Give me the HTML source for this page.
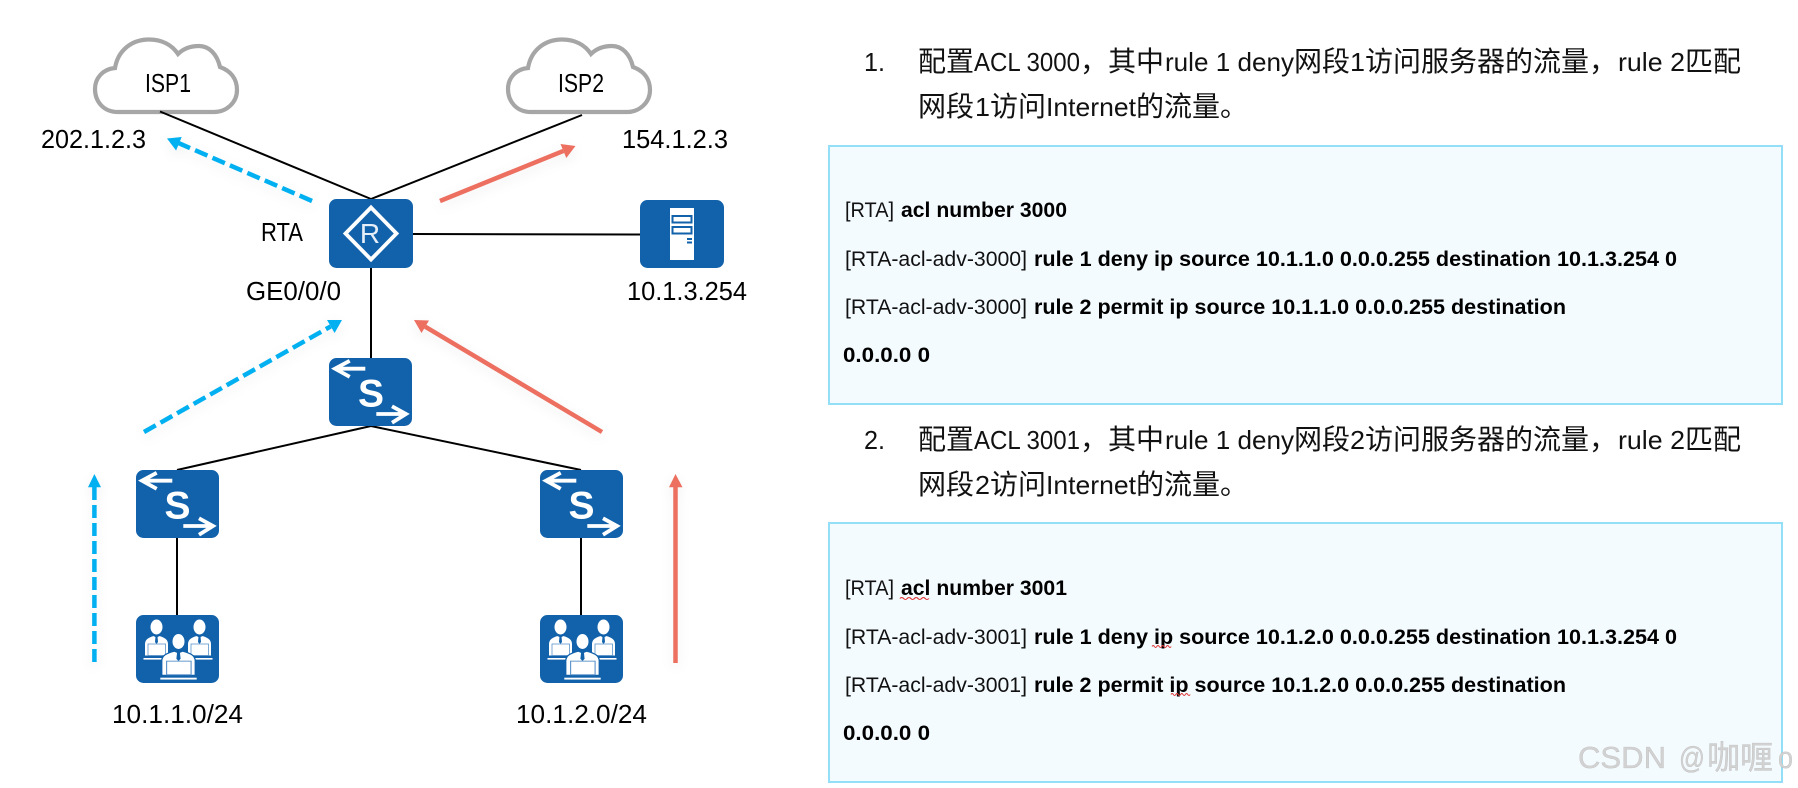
<!DOCTYPE html>
<html lang="zh">
<head>
<meta charset="utf-8">
<title>ACL 配置</title>
<style>
html,body{margin:0;padding:0;background:#fff;width:1798px;height:788px;overflow:hidden}
svg{display:block}
text{font-family:"Liberation Sans","Noto Sans CJK SC",sans-serif;fill:#000}
.cjk{font-family:"Noto Sans CJK SC","Liberation Sans",sans-serif;font-size:28px;fill:#111}
.h{font-size:26px;fill:#111}
.t{font-size:26px}
.c{font-size:21px;fill:#111}
.b{font-size:21px;font-weight:bold}
.wm{fill:#d2d2d2;stroke:#b8b8b8;stroke-width:.3}
.ln{stroke:#000;stroke-width:2;fill:none}
.arrows{filter:drop-shadow(0 4px 6px rgba(0,0,0,.07))}
</style>
</head>
<body>
<svg width="1798" height="788" viewBox="0 0 1798 788" xmlns="http://www.w3.org/2000/svg">
<defs>
<g id="sw">
<rect width="83" height="68" rx="7.500" fill="#1262ab"/>
<path d="M36.300 10.700L6 10.700M20.700 2.800L6 10.700L20.700 18.800" fill="none" stroke="#fff" stroke-width="3.800"/>
<path d="M47.300 56L77 56M63 48.300L77 56L63 64.700" fill="none" stroke="#fff" stroke-width="3.800"/>
</g>
<g id="body">
<path d="M-12 24L-12 12C-12 7-8 5-3 3.500L0 5L3 3.500C8 5 12 7 12 12L12 24Z" fill="#fff" stroke="#1262ab" stroke-width="1"/>
<path d="M-1 4.500L1 4.500L1.500 10L0 12L-1.500 10Z" fill="#1262ab"/>
<rect x="-8.500" y="12" width="17.500" height="11.500" fill="#fff" stroke="#5c93ca" stroke-width=".8"/>
<rect x="-13" y="26" width="26" height="1.600" fill="#fff"/>
</g>
<g id="pc">
<rect width="83" height="68" rx="7.500" fill="#1262ab"/>
<use href="#body" transform="translate(20.500,17)"/>
<ellipse cx="20.500" cy="12" rx="6" ry="7.500" fill="#fff"/>
<use href="#body" transform="translate(63.500,17)"/>
<ellipse cx="63.500" cy="12" rx="6" ry="7.500" fill="#fff"/>
<use href="#body" transform="translate(42.500,32) scale(1.400,1.180)"/>
<ellipse cx="42.500" cy="26.500" rx="7" ry="8" fill="#1262ab"/>
<ellipse cx="42.500" cy="26.500" rx="6" ry="7.500" fill="#fff"/>
</g>
<g id="cloud">
<path d="M118 112C103 112 95 101 95 89C95 78 103 69 115 68C118 50 132 39.500 149 39.500C162 39.500 172 45 178 54C184 48 191 46 199 46C209 46 217 54 220 67C231 71 237 79 237 90C237 103 226 112 214 112Z" fill="#fff" stroke="#a6a6a6" stroke-width="4.200"/>
</g>
<path id="wave" d="M0 0q1.200 -2 2.400 0t2.400 0q1.200 -2 2.400 0t2.400 0q1.200 -2 2.400 0t2.400 0q1.200 -2 2.400 0t2.400 0" fill="none" stroke="#e03a3a" stroke-width="1"/>
</defs>

<!-- clouds -->
<use href="#cloud"/>
<use href="#cloud" transform="translate(413,0)"/>
<text class="t" x="145" y="92" textLength="46" lengthAdjust="spacingAndGlyphs">ISP1</text>
<text class="t" x="558" y="92" textLength="46" lengthAdjust="spacingAndGlyphs">ISP2</text>

<!-- connectors -->
<line class="ln" x1="160" y1="111.500" x2="371" y2="199"/>
<line class="ln" x1="582" y1="115" x2="371" y2="199"/>
<line class="ln" x1="413" y1="234" x2="640" y2="234.500"/>
<line class="ln" x1="371" y1="268" x2="371" y2="358"/>
<line class="ln" x1="371" y1="426" x2="177" y2="470"/>
<line class="ln" x1="371" y1="426" x2="581" y2="470"/>
<line class="ln" x1="177" y1="538" x2="177" y2="615"/>
<line class="ln" x1="581" y1="538" x2="581" y2="615"/>

<!-- devices -->
<rect x="329" y="199" width="84" height="69" rx="7.500" fill="#1262ab"/>
<path d="M371 207.500L396.500 233.500L371 259.500L345.500 233.500Z" fill="none" stroke="#fff" stroke-width="3.800"/>
<text x="370" y="243" text-anchor="middle" font-size="28" style="fill:#e6eef7">R</text>

<rect x="640" y="200" width="84" height="68" rx="7.500" fill="#1262ab"/>
<rect x="670" y="208" width="24" height="52" fill="#fff"/>
<rect x="672.500" y="216" width="19" height="6.500" fill="#fff" stroke="#1262ab" stroke-width="2"/>
<rect x="672.500" y="227" width="19" height="6.500" fill="#fff" stroke="#1262ab" stroke-width="2"/>
<rect x="687" y="238" width="5" height="2" fill="#1262ab"/>
<rect x="687" y="241.500" width="5" height="2" fill="#1262ab"/>

<use href="#sw" transform="translate(329,358)"/>
<text x="371" y="406.500" text-anchor="middle" font-size="39" font-weight="bold" style="fill:#fff">S</text>
<use href="#sw" transform="translate(136,470)"/>
<text x="177.500" y="518.500" text-anchor="middle" font-size="39" font-weight="bold" style="fill:#fff">S</text>
<use href="#sw" transform="translate(540,470)"/>
<text x="581.500" y="518.500" text-anchor="middle" font-size="39" font-weight="bold" style="fill:#fff">S</text>

<use href="#pc" transform="translate(136,615)"/>
<use href="#pc" transform="translate(540,615)"/>

<!-- traffic arrows -->
<g class="arrows">
<g fill="none" stroke-width="4.500">
<line x1="312" y1="201" x2="178.900" y2="143.200" stroke="#00b0f0" stroke-dasharray="13.500 5.500"/>
<line x1="144" y1="432" x2="330.700" y2="326.400" stroke="#00b0f0" stroke-dasharray="13.500 5.500"/>
<line x1="94.400" y1="663" x2="94.400" y2="487" stroke="#00b0f0" stroke-dasharray="13 5" stroke-dashoffset="-1"/>
<line x1="440" y1="201" x2="563.400" y2="150.900" stroke="#ec6f60"/>
<line x1="602" y1="432" x2="425.200" y2="326.700" stroke="#ec6f60"/>
<line x1="675.500" y1="663" x2="675.500" y2="487" stroke="#ec6f60"/>
</g>
<polygon points="167,138.500 181.700,137 176.100,150.500" fill="#00b0f0"/>
<polygon points="342,320 334.600,333 327,320" fill="#00b0f0"/>
<polygon points="94.400,474 88,487.300 101,487.300" fill="#00b0f0"/>
<polygon points="575.500,146 566.300,158 560.500,144" fill="#ec6f60"/>
<polygon points="414,320 429,320.500 421.500,333" fill="#ec6f60"/>
<polygon points="675.500,474 669,487.300 682.500,487.300" fill="#ec6f60"/>
</g>

<!-- left labels -->
<text class="t" x="41" y="148" textLength="105" lengthAdjust="spacingAndGlyphs">202.1.2.3</text>
<text class="t" x="622" y="148" textLength="106" lengthAdjust="spacingAndGlyphs">154.1.2.3</text>
<text class="t" x="261" y="241" textLength="42" lengthAdjust="spacingAndGlyphs">RTA</text>
<text class="t" x="246" y="300" textLength="95" lengthAdjust="spacingAndGlyphs">GE0/0/0</text>
<text class="t" x="627" y="300" textLength="120" lengthAdjust="spacingAndGlyphs">10.1.3.254</text>
<text class="t" x="112" y="723" textLength="131" lengthAdjust="spacingAndGlyphs">10.1.1.0/24</text>
<text class="t" x="516" y="723" textLength="131" lengthAdjust="spacingAndGlyphs">10.1.2.0/24</text>

<!-- heading 1 -->
<text class="h" x="864" y="71" textLength="21" lengthAdjust="spacingAndGlyphs">1.</text>
<text class="cjk" x="918" y="71">配置</text>
<text class="h" x="974" y="71" textLength="106" lengthAdjust="spacingAndGlyphs">ACL 3000</text>
<text class="cjk" x="1080" y="71">，</text>
<text class="cjk" x="1108" y="71">其中</text>
<text class="h" x="1165" y="71" textLength="129" lengthAdjust="spacingAndGlyphs">rule 1 deny</text>
<text class="cjk" x="1294" y="71">网段</text>
<text class="h" x="1350" y="71" textLength="15" lengthAdjust="spacingAndGlyphs">1</text>
<text class="cjk" x="1365" y="71">访问服务器的流量</text>
<text class="cjk" x="1589" y="71">，</text>
<text class="h" x="1618" y="71" textLength="67" lengthAdjust="spacingAndGlyphs">rule 2</text>
<text class="cjk" x="1685" y="71">匹配</text>
<text class="cjk" x="918" y="116">网段</text>
<text class="h" x="975" y="116" textLength="15" lengthAdjust="spacingAndGlyphs">1</text>
<text class="cjk" x="990" y="116">访问</text>
<text class="h" x="1046" y="116" textLength="90" lengthAdjust="spacingAndGlyphs">Internet</text>
<text class="cjk" x="1136" y="116">的流量。</text>

<!-- box 1 -->
<rect x="829" y="146" width="953" height="258" fill="#f4fbff" stroke="#93dff8" stroke-width="2"/>
<text class="c" x="845" y="217" textLength="49" lengthAdjust="spacingAndGlyphs">[RTA]</text>
<text class="b" x="901" y="217" textLength="166" lengthAdjust="spacingAndGlyphs">acl number 3000</text>
<text class="c" x="845" y="266" textLength="182" lengthAdjust="spacingAndGlyphs">[RTA-acl-adv-3000]</text>
<text class="b" x="1034" y="266" textLength="643" lengthAdjust="spacingAndGlyphs">rule 1 deny ip source 10.1.1.0 0.0.0.255 destination 10.1.3.254 0</text>
<text class="c" x="845" y="314" textLength="182" lengthAdjust="spacingAndGlyphs">[RTA-acl-adv-3000]</text>
<text class="b" x="1034" y="314" textLength="532" lengthAdjust="spacingAndGlyphs">rule 2 permit ip source 10.1.1.0 0.0.0.255 destination</text>
<text class="b" x="843" y="362" textLength="87" lengthAdjust="spacingAndGlyphs">0.0.0.0 0</text>

<!-- heading 2 -->
<text class="h" x="864" y="449" textLength="21" lengthAdjust="spacingAndGlyphs">2.</text>
<text class="cjk" x="918" y="449">配置</text>
<text class="h" x="974" y="449" textLength="106" lengthAdjust="spacingAndGlyphs">ACL 3001</text>
<text class="cjk" x="1080" y="449">，</text>
<text class="cjk" x="1108" y="449">其中</text>
<text class="h" x="1165" y="449" textLength="129" lengthAdjust="spacingAndGlyphs">rule 1 deny</text>
<text class="cjk" x="1294" y="449">网段</text>
<text class="h" x="1350" y="449" textLength="15" lengthAdjust="spacingAndGlyphs">2</text>
<text class="cjk" x="1365" y="449">访问服务器的流量</text>
<text class="cjk" x="1589" y="449">，</text>
<text class="h" x="1618" y="449" textLength="67" lengthAdjust="spacingAndGlyphs">rule 2</text>
<text class="cjk" x="1685" y="449">匹配</text>
<text class="cjk" x="918" y="494">网段</text>
<text class="h" x="975" y="494" textLength="15" lengthAdjust="spacingAndGlyphs">2</text>
<text class="cjk" x="990" y="494">访问</text>
<text class="h" x="1046" y="494" textLength="90" lengthAdjust="spacingAndGlyphs">Internet</text>
<text class="cjk" x="1136" y="494">的流量。</text>

<!-- box 2 -->
<rect x="829" y="523" width="953" height="259" fill="#f4fbff" stroke="#93dff8" stroke-width="2"/>
<text class="c" x="845" y="595" textLength="49" lengthAdjust="spacingAndGlyphs">[RTA]</text>
<text class="b" x="901" y="595" textLength="166" lengthAdjust="spacingAndGlyphs">acl number 3001</text>
<text class="c" x="845" y="644" textLength="182" lengthAdjust="spacingAndGlyphs">[RTA-acl-adv-3001]</text>
<text class="b" x="1034" y="644" textLength="643" lengthAdjust="spacingAndGlyphs">rule 1 deny ip source 10.1.2.0 0.0.0.255 destination 10.1.3.254 0</text>
<text class="c" x="845" y="692" textLength="182" lengthAdjust="spacingAndGlyphs">[RTA-acl-adv-3001]</text>
<text class="b" x="1034" y="692" textLength="532" lengthAdjust="spacingAndGlyphs">rule 2 permit ip source 10.1.2.0 0.0.0.255 destination</text>
<text class="b" x="843" y="740" textLength="87" lengthAdjust="spacingAndGlyphs">0.0.0.0 0</text>
<use href="#wave" transform="translate(900,598.500) scale(1.500,1)"/>
<use href="#wave" transform="translate(1152,646.500)"/>
<use href="#wave" transform="translate(1171,694.500)"/>

<!-- watermark -->
<text class="wm" x="1578" y="768" font-size="31" textLength="88" lengthAdjust="spacingAndGlyphs">CSDN</text>
<text class="wm" x="1679" y="768" font-size="31" textLength="26" lengthAdjust="spacingAndGlyphs">@</text>
<text class="wm" x="1707" y="769" font-size="33" textLength="66" lengthAdjust="spacingAndGlyphs">咖喱</text>
<text class="wm" x="1778" y="768" font-size="31" textLength="15" lengthAdjust="spacingAndGlyphs">o</text>
</svg>
</body>
</html>
